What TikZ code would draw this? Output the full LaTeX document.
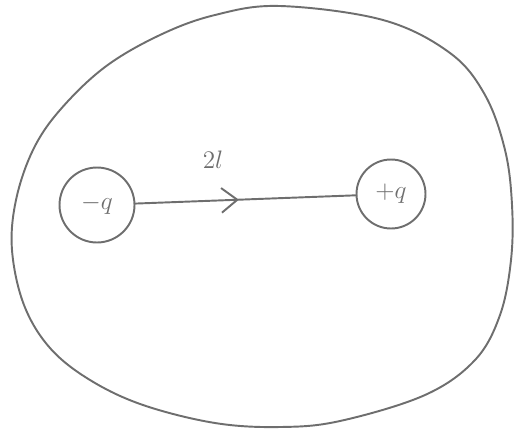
\documentclass[tikz,border=0pt]{standalone}
\usetikzlibrary{arrows.meta, decorations.markings}
\definecolor{pencil}{HTML}{6E6E6E}

\begin{document}
\begin{tikzpicture}[x=0.02cm, y=-0.02cm,
    pencil line/.style={draw=pencil, line width=1.1pt, line cap=round, line join=round},
    charge/.style={pencil line, circle, inner sep=0pt, text=pencil, font=\Large},
    dipole/.style={pencil line, postaction={decorate},
      decoration={markings, mark=at position 0.47 with {\arrow[pencil, line width=1.1pt]{Straight Barb[length=9pt, width=14pt]}}}}]
  \useasboundingbox (0,0) rectangle (516,433);
  % closed surface
  \draw[pencil line] plot[smooth cycle, tension=0.6] coordinates {
    (280,6) (383,20) (450,53) (485,95) (505,150) (512,205) (511,260)
    (500,315) (475,360) (425,395) (340,421) (280,427)
    (215,423) (143,405) (90,380) (50,348) (24,305) (12,250) (16,200)
    (33,150) (60,110) (105,67) (160,35) (215,15)};
  % charges
  \node[charge, minimum size=1.5cm] (neg) at (97,205) {$-q$};
  \node[charge, minimum size=1.38cm] (pos) at (391,194) {$+q$};
  % separation
  \draw[dipole] (neg) -- (pos);
  \node[text=pencil, font=\Large] (sep) at (213,160) {$2l$};
\end{tikzpicture}
\end{document}
